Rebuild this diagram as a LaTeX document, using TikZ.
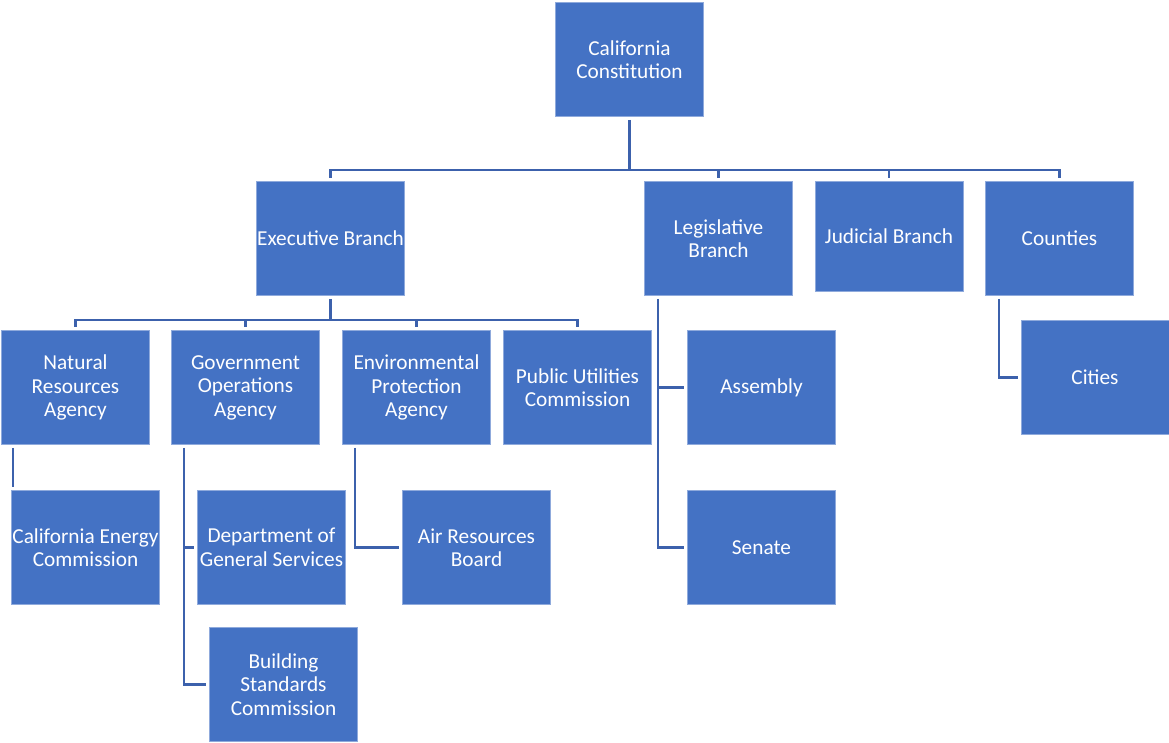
\documentclass[tikz,border=0pt]{standalone}
\usepackage{fontspec}
\setmainfont{Carlito}
\usepackage{xcolor}
\usepackage{tikz}
\usetikzlibrary{positioning}

\definecolor{boxblue}{RGB}{68,114,196}
\definecolor{edgeblue}{RGB}{143,170,220}
\definecolor{linkblue}{RGB}{60,97,172}

\begin{document}
\begin{tikzpicture}[
  x=1pt, y=-1pt,
  orgbox/.style={draw=edgeblue, line width=0.8pt, fill=boxblue, text=white, align=center,
    minimum width=148pt, minimum height=114pt, inner sep=0pt,
    font=\fontsize{21.3}{23.5}\selectfont},
  link/.style={draw=linkblue, line width=2.6pt, shorten >=3pt}
]
\useasboundingbox (0,0) rectangle (1169,742);
% top level
\node[orgbox] (const) at (629.5,59.5) {California\\Constitution};
\node[orgbox] (exec) at (330.5,238.5) {Executive Branch};
\node[orgbox] (legis) at (718.5,238.5) {Legislative\\Branch};
\node[orgbox, minimum height=110pt] (judic) at (889,236.5) {Judicial Branch};
\node[orgbox] (county) at (1059.5,238.5) {Counties};
% agencies
\node[orgbox] (nra) at (75.5,387.5) {Natural\\Resources\\Agency};
\node[orgbox] (goa) at (245.5,387.5) {Government\\Operations\\Agency};
\node[orgbox] (epa) at (416.5,387.5) {Environmental\\Protection\\Agency};
\node[orgbox] (puc) at (577.5,387.5) {Public Utilities\\Commission};
\node[orgbox] (assem) at (761.5,387.5) {Assembly};
\node[orgbox] (senate) at (761.5,547.5) {Senate};
\node[orgbox] (cities) at (1095,377.5) {Cities};
% departments
\node[orgbox] (cec) at (85.5,547.5) {California Energy\\Commission};
\node[orgbox] (dgs) at (271.5,547.5) {Department of\\General Services};
\node[orgbox] (bsc) at (283.5,684.5) {Building\\Standards\\Commission};
\node[orgbox] (arb) at (476.5,547.5) {Air Resources\\Board};
% buses
\coordinate (bus1) at (629.5,170);
\coordinate (bus2) at (330.5,320);
\draw[link, shorten >=0pt] ([yshift=-3pt]const.south) -- (bus1);
\foreach \n in {exec,legis,judic,county}
  \draw[link] (bus1) -| (\n.north);
\draw[link, shorten >=0pt] ([yshift=-3pt]exec.south) -- (bus2);
\foreach \n in {nra,goa,epa,puc}
  \draw[link] (bus2) -| (\n.north);
% side branches
\draw[link] ([xshift=12pt,yshift=-3pt]nra.south west) -- ([xshift=12pt]nra.south west |- cec.north);
\draw[link] ([xshift=13pt,yshift=-3pt]goa.south west) |- (bsc.west);
\draw[link] ([xshift=13pt]goa.south west |- dgs.west) -- (dgs.west);
\draw[link] ([xshift=13pt,yshift=-3pt]epa.south west) |- (arb.west);
\draw[link] ([xshift=14pt,yshift=-3pt]legis.south west) |- (senate.west);
\draw[link] ([xshift=14pt]legis.south west |- assem.west) -- (assem.west);
\draw[link] ([xshift=14pt,yshift=-3pt]county.south west) |- (cities.west);
\end{tikzpicture}
\end{document}
